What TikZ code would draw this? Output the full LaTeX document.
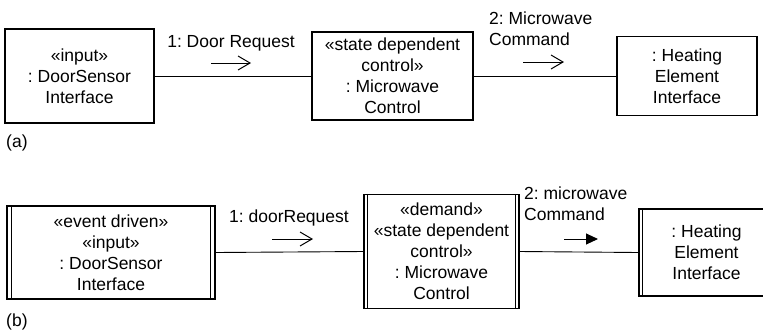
\documentclass[tikz,border=0pt]{standalone}
\usepackage{fontspec}
\setmainfont{Liberation Sans}
\usetikzlibrary{arrows.meta}
\frenchspacing
\begin{document}
\begin{tikzpicture}[x=1pt,y=-1pt,
  every node/.style={font=\fontsize{17.5}{21}\selectfont, inner sep=0pt},
  obj/.style={draw, line width=1.1pt, align=center},
  conn/.style={line width=0.9pt},
  msg/.style={line width=1pt, -{Straight Barb[length=12pt,width=14pt,line width=1pt]}},
  msgfill/.style={line width=1pt, -{Triangle[length=12pt,width=11pt]}},
  lbl/.style={align=left, anchor=west}]
\useasboundingbox (0,0) rectangle (763,333);

% ---------- (a) ----------
\node[obj, minimum width=149pt, minimum height=94pt] (a1) at (79.5,76)
  {«input»\\: DoorSensor\\Interface};
\node[obj, minimum width=161pt, minimum height=88pt] (a2) at (392.5,76)
  {«state dependent\\control»\\: Microwave\\Control};
\node[obj, minimum width=140pt, minimum height=79pt] (a3) at (687,76)
  {: Heating\\Element\\Interface};
\draw[conn] (a1.east) -- (a2.west);
\draw[conn] (a2.east) -- (a3.west);
\node (la1) at (231,43) {1: Door Request};
\coordinate (sa1) at (211,63); \coordinate (ea1) at (251,63);
\draw[msg] (sa1) -- (ea1);
\node[lbl] (la2) at (489,28.5) {2: Microwave\\Command};
\coordinate (sa2) at (523,62); \coordinate (ea2) at (564,62);
\draw[msg] (sa2) -- (ea2);
\node[anchor=west] (capa) at (6,143) {(a)};

% ---------- (b) ----------
\node[obj, minimum width=208pt, minimum height=93pt] (b1) at (111,252.5)
  {«event driven»\\«input»\\: DoorSensor\\Interface};
\draw[line width=1pt] ([xshift=5.5pt]b1.north west) -- ([xshift=5.5pt]b1.south west);
\draw[line width=1pt] ([xshift=-5.5pt]b1.north east) -- ([xshift=-5.5pt]b1.south east);
\node[obj, minimum width=155pt, minimum height=114pt] (b2) at (441.5,251.5)
  {«demand»\\«state dependent\\control»\\: Microwave\\Control};
\draw[line width=1pt] ([xshift=4pt]b2.north west) -- ([xshift=4pt]b2.south west);
\draw[line width=1pt] ([xshift=-4pt]b2.north east) -- ([xshift=-4pt]b2.south east);
\node[obj, minimum width=135pt, minimum height=87pt] (b3) at (706.5,252.5)
  {: Heating\\Element\\Interface};
\draw[line width=1pt] ([xshift=4pt]b3.north west) -- ([xshift=4pt]b3.south west);
\draw[conn] (b1.east) -- (b2.west);
\draw[conn] (b2.east) -- (b3.west);
\node (lb1) at (289,218) {1: doorRequest};
\coordinate (sb1) at (272,239); \coordinate (eb1) at (313,239);
\draw[msg] (sb1) -- (eb1);
\node[lbl] (lb2) at (524,204) {2: microwave\\Command};
\coordinate (sb2) at (564,239); \coordinate (eb2) at (598,239);
\draw[msgfill] (sb2) -- (eb2);
\node[anchor=west] (capb) at (6,322) {(b)};
\end{tikzpicture}
\end{document}
